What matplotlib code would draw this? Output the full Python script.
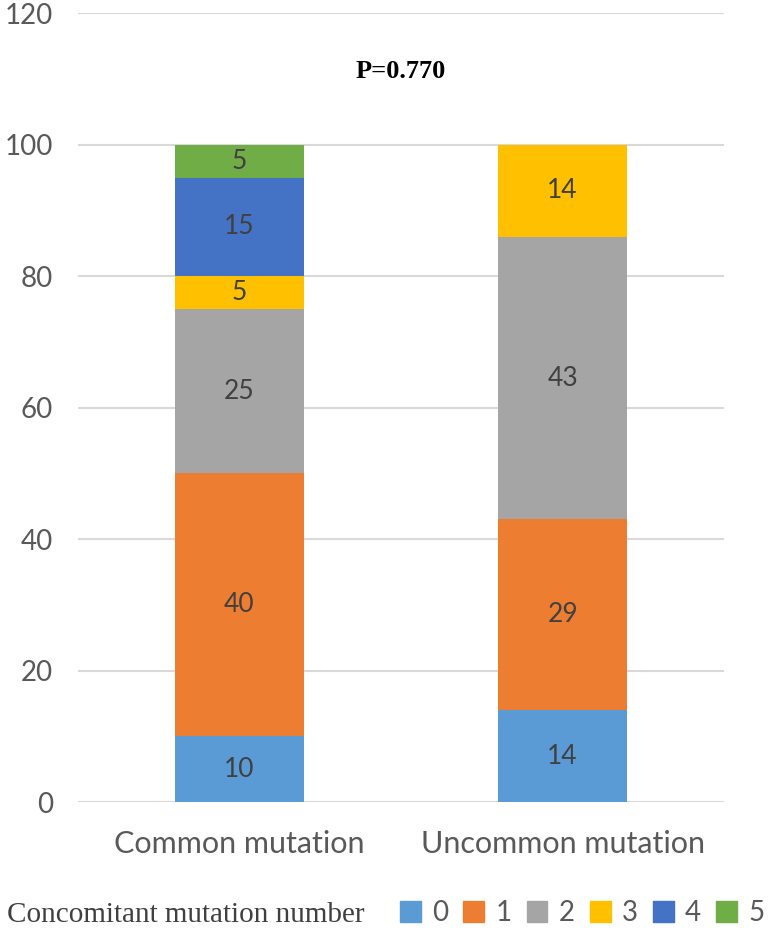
import matplotlib.pyplot as plt
from matplotlib.patches import Patch
import numpy as np

groups = ['Common mutation', 'Uncommon mutation']
levels = ['0', '1', '2', '3', '4', '5']
common = [10, 40, 25, 5, 15, 5]
uncommon = [14, 29, 43, 14, 0, 0]
colors = ['#5B9BD5', '#ED7D31', '#A5A5A5', '#FFC000', '#4472C4', '#70AD47']

plt.rcParams['font.family'] = ['Lato', 'DejaVu Sans']

fig = plt.figure(figsize=(7.72, 9.3), dpi=100)
ax = fig.add_axes([0.101, 0.1376, 0.837, 0.848])

vals = np.array([common, uncommon]).T
x = np.arange(len(groups))
bottom = np.zeros(len(groups))
for i, lev in enumerate(levels):
    bars = ax.bar(x, vals[i], 0.4, bottom=bottom, color=colors[i], zorder=3)
    for b, v, bt in zip(bars, vals[i], bottom):
        if v > 0:
            ax.text(b.get_x() + b.get_width() / 2, bt + v / 2, str(v),
                    ha='center', va='center', fontsize=19, color='#404040', zorder=4)
    bottom += vals[i]

ax.set_xlim(-0.5, 1.5)
ax.set_ylim(0, 120)
ax.set_yticks(np.arange(0, 121, 20))
ax.yaxis.grid(True, color='#D9D9D9', linewidth=1.5, zorder=0)
ax.set_xticks(x)
ax.set_xticklabels(groups)
ax.tick_params(axis='both', length=0, labelsize=20, labelcolor='#595959')
ax.tick_params(axis='y', pad=18)
ax.tick_params(axis='x', pad=20, labelsize=22)
for s in ax.spines.values():
    s.set_visible(False)

ax.text(0.5, 111.2, 'P=0.770', ha='center', va='center', fontsize=19,
        fontweight='bold', family='Liberation Serif', color='black')

fig.text(0.009, 0.0086, 'Concomitant mutation number', family='Liberation Serif',
         fontsize=21, color='#404040', va='baseline')
handles = [Patch(color=c) for c in colors]
fig.legend(handles, levels, ncol=6, loc='lower left', bbox_to_anchor=(0.518, 0.004),
           frameon=False, borderpad=0, borderaxespad=0,
           handlelength=0.75, handleheight=0.75, handletextpad=0.4,
           columnspacing=0.55, fontsize=20, labelcolor='#595959')

plt.savefig('out.png', dpi=100)
